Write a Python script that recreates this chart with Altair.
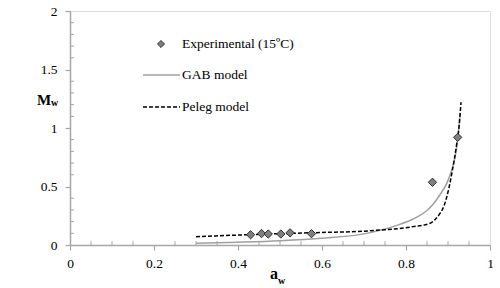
import altair as alt
import pandas as pd

# Experimental data
exp_aw = [0.430, 0.456, 0.472, 0.502, 0.524, 0.575, 0.863, 0.923]
exp_mw = [0.088, 0.098, 0.094, 0.094, 0.104, 0.097, 0.536, 0.920]

# GAB model curve
gab_aw = [0.30, 0.40, 0.50, 0.60, 0.70, 0.74, 0.78, 0.817, 0.85, 0.865, 0.88, 0.897, 0.907, 0.917, 0.923, 0.929]
gab_mw = [0.014, 0.024, 0.037, 0.058, 0.095, 0.127, 0.170, 0.222, 0.295, 0.350, 0.425, 0.527, 0.620, 0.755, 0.900, 1.130]

# Peleg model curve
peleg_aw = [0.30, 0.40, 0.50, 0.60, 0.70, 0.74, 0.77, 0.817, 0.857, 0.870, 0.881, 0.890, 0.897, 0.903, 0.909, 0.915, 0.921, 0.926, 0.931]
peleg_mw = [0.071, 0.085, 0.097, 0.107, 0.118, 0.128, 0.136, 0.157, 0.185, 0.220, 0.270, 0.330, 0.410, 0.500, 0.610, 0.730, 0.870, 1.000, 1.220]

# Axis ticks
x_major = [0, 0.2, 0.4, 0.6, 0.8, 1]
y_major = [0, 0.5, 1, 1.5, 2]
x_minor = [0.05, 0.1, 0.15, 0.25, 0.3, 0.35, 0.45, 0.5, 0.55, 0.65, 0.7, 0.75, 0.85, 0.9, 0.95]
y_minor = [0.1, 0.2, 0.3, 0.4, 0.6, 0.7, 0.8, 0.9, 1.1, 1.2, 1.3, 1.4, 1.6, 1.7, 1.8, 1.9]

legend_labels = ["Experimental (15ºC)", "GAB model", "Peleg model"]

FONT = "Times New Roman, Liberation Serif, serif"
W, H = 420, 234
AXIS_GRAY = "#a6a6a6"

xs = alt.Scale(domain=[0, 1], nice=False)
ys = alt.Scale(domain=[0, 2], nice=False)

df_exp = pd.DataFrame({"aw": exp_aw, "mw": exp_mw})
df_gab = pd.DataFrame({"aw": gab_aw, "mw": gab_mw})
df_peleg = pd.DataFrame({"aw": peleg_aw, "mw": peleg_mw})

x_axis = alt.Axis(values=x_major, title=None, grid=False, domainColor=AXIS_GRAY,
                  domainWidth=1.5, tickColor=AXIS_GRAY, tickSize=5, tickWidth=1.2,
                  labelFont=FONT, labelFontSize=13.5, labelColor="black", labelPadding=6,
                  labelFlush=False, format="~g")
y_axis = alt.Axis(values=y_major, title=None, grid=False, domainColor=AXIS_GRAY,
                  domainWidth=1.5, tickColor=AXIS_GRAY, tickSize=5, tickWidth=1.2,
                  labelFont=FONT, labelFontSize=13.5, labelColor="black", labelPadding=8,
                  labelFlush=False, format="~g")

gab = alt.Chart(df_gab).mark_line(color="#a0a0a0", strokeWidth=1.5, interpolate="monotone").encode(
    x=alt.X("aw:Q", scale=xs, axis=x_axis),
    y=alt.Y("mw:Q", scale=ys, axis=y_axis),
)
peleg = alt.Chart(df_peleg).mark_line(color="black", strokeWidth=1.5, strokeDash=[4, 2],
                                      interpolate="monotone").encode(
    x=alt.X("aw:Q", scale=xs), y=alt.Y("mw:Q", scale=ys))
pts = alt.Chart(df_exp).mark_point(shape="diamond", filled=True, fill="#7f7f7f", stroke="#333333",
                                   strokeWidth=1, size=70, opacity=1).encode(
    x=alt.X("aw:Q", scale=xs), y=alt.Y("mw:Q", scale=ys))

xmin = alt.Chart(pd.DataFrame({"v": x_minor})).mark_rule(color=AXIS_GRAY, strokeWidth=1).encode(
    x=alt.X("v:Q", scale=xs), y=alt.value(H), y2=alt.value(H - 4))
ymin = alt.Chart(pd.DataFrame({"v": y_minor})).mark_rule(color=AXIS_GRAY, strokeWidth=1).encode(
    y=alt.Y("v:Q", scale=ys), x=alt.value(0), x2=alt.value(4))

one = pd.DataFrame({"a": [0]})
base = alt.Chart(one)

# axis titles with subscripts
t_M = base.mark_text(text="M", font=FONT, fontSize=15, fontWeight="bold", align="left",
                     baseline="alphabetic").encode(x=alt.value(-33), y=alt.value(94))
t_Mw = base.mark_text(text="w", font=FONT, fontSize=10, fontWeight="bold", align="left",
                      baseline="alphabetic").encode(x=alt.value(-19), y=alt.value(95))
t_a = base.mark_text(text="a", font=FONT, fontSize=16, fontWeight="bold", align="left",
                     baseline="alphabetic").encode(x=alt.value(200), y=alt.value(268))
t_aw = base.mark_text(text="w", font=FONT, fontSize=10, fontWeight="bold", align="left",
                      baseline="alphabetic").encode(x=alt.value(208), y=alt.value(273))

# legend
lg_pt = base.mark_point(shape="diamond", filled=True, fill="#7f7f7f", stroke="#333333",
                        strokeWidth=1, size=50, opacity=1).encode(x=alt.value(91), y=alt.value(33))
lg_gab = base.mark_rule(color="#a0a0a0", strokeWidth=1.5).encode(
    x=alt.value(73), x2=alt.value(110), y=alt.value(64))
lg_peleg = base.mark_rule(color="black", strokeWidth=1.5, strokeDash=[4, 2]).encode(
    x=alt.value(73), x2=alt.value(110), y=alt.value(96))
lg_t = []
for lab, yy in zip(legend_labels, [33, 64, 96]):
    lg_t.append(base.mark_text(text=lab, font=FONT, fontSize=13.5, align="left", baseline="middle",
                               color="black").encode(x=alt.value(112), y=alt.value(yy)))

chart = alt.layer(gab, peleg, pts, xmin, ymin, t_M, t_Mw, t_a, t_aw,
                  lg_pt, lg_gab, lg_peleg, *lg_t).properties(
    width=W, height=H,
    autosize=alt.AutoSizeParams(type="none"),
    padding={"left": 70, "top": 11, "right": 10, "bottom": 43},
).configure_view(stroke="#d0d0d0", strokeWidth=1).configure(background="white")

chart.save("out.html", embed_options={"renderer": "svg", "actions": False})
